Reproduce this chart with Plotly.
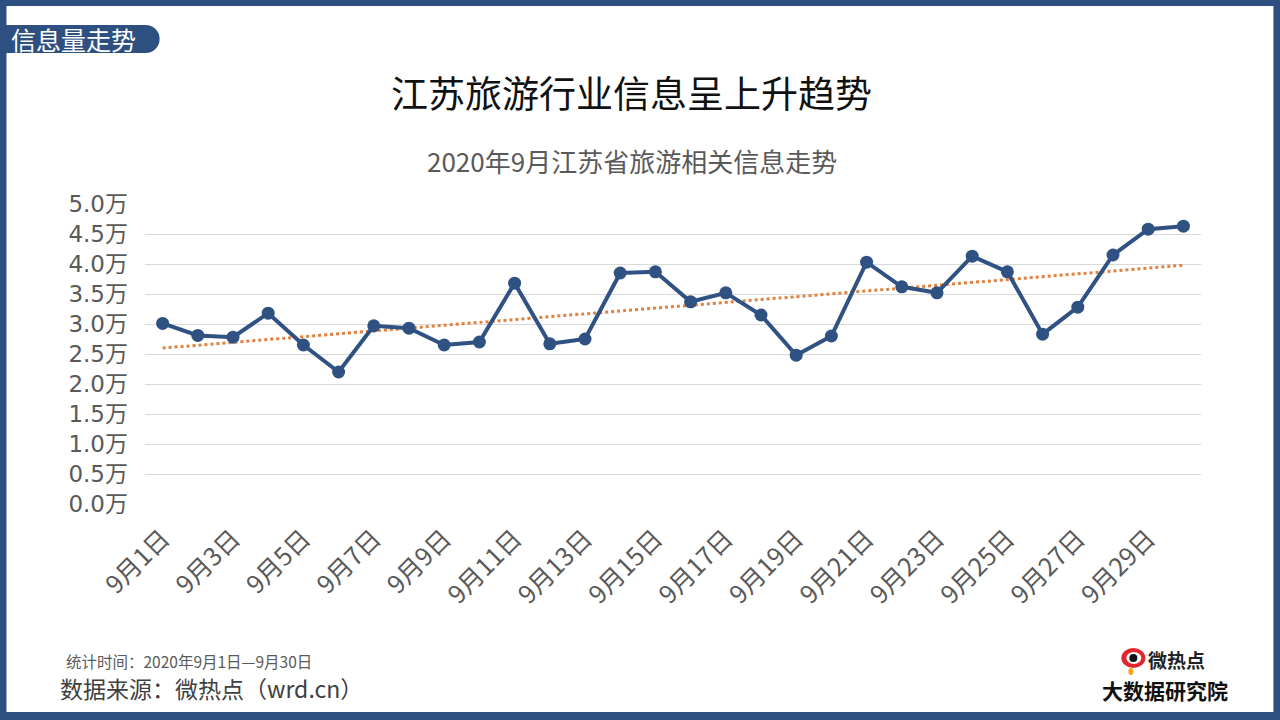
import numpy as np
import plotly.graph_objects as go

# ---- data ----
days = list(range(1, 31))
day_labels = [f"9月{d}日" for d in days]
values = [3.01, 2.81, 2.78, 3.18, 2.65, 2.20, 2.97, 2.93, 2.65, 2.70,
          3.68, 2.67, 2.75, 3.85, 3.87, 3.37, 3.52, 3.15, 2.48, 2.80,
          4.03, 3.62, 3.52, 4.13, 3.87, 2.83, 3.28, 4.15, 4.58, 4.63]
y_tickvals = [0, 0.5, 1.0, 1.5, 2.0, 2.5, 3.0, 3.5, 4.0, 4.5, 5.0]
y_ticktext = ["0.0万", "0.5万", "1.0万", "1.5万", "2.0万", "2.5万",
              "3.0万", "3.5万", "4.0万", "4.5万", "5.0万"]
x_tickvals = days[::2]
x_ticktext = day_labels[::2]

# linear trend line (as Excel trendline)
slope, intercept = np.polyfit(days, values, 1)
trend = [slope * d + intercept for d in days]

FONT = "Noto Sans CJK SC"
BLUE = "#2E5080"
LINE = "#2F5283"

# plot area in pixels
L, R, T, B = 145.4, 1200.6, 204, 504
W, H = R - L, B - T
def px(x):
    return (x - L) / W
def py(y):
    return (B - y) / H

fig = go.Figure()
fig.add_trace(go.Scatter(x=days, y=trend, mode="lines",
                         line=dict(color="#E0823F", width=3, dash="dot"),
                         hoverinfo="skip", showlegend=False))
fig.add_trace(go.Scatter(x=days, y=values, mode="lines+markers",
                         line=dict(color=LINE, width=4),
                         marker=dict(size=13, color=LINE),
                         showlegend=False))

shapes = []
# frame
for (x0, y0, x1, y1) in [(0, 0, 1280, 6), (0, 712, 1280, 720), (0, 0, 7, 720), (1273, 0, 1280, 720)]:
    shapes.append(dict(type="rect", xref="paper", yref="paper",
                       x0=px(x0), x1=px(x1), y0=py(y0), y1=py(y1),
                       fillcolor=BLUE, line=dict(width=0), layer="above"))
# pill label
shapes.append(dict(type="rect", xref="paper", yref="paper",
                   x0=px(0), x1=px(146), y0=py(25), y1=py(53),
                   fillcolor=BLUE, line=dict(width=0), layer="above"))
shapes.append(dict(type="circle", xref="paper", yref="paper",
                   x0=px(132), x1=px(160), y0=py(25), y1=py(53),
                   fillcolor=BLUE, line=dict(width=0), layer="above"))
# logo eye
shapes.append(dict(type="circle", xref="paper", yref="paper",
                   x0=px(1121), x1=px(1145), y0=py(648), y1=py(668),
                   fillcolor="#E3262E", line=dict(width=0), layer="above"))
shapes.append(dict(type="circle", xref="paper", yref="paper",
                   x0=px(1126), x1=px(1141), y0=py(652), y1=py(664),
                   fillcolor="white", line=dict(width=0), layer="above"))
shapes.append(dict(type="circle", xref="paper", yref="paper",
                   x0=px(1129), x1=px(1137), y0=py(654), y1=py(662),
                   fillcolor="#111111", line=dict(width=0), layer="above"))
shapes.append(dict(type="circle", xref="paper", yref="paper",
                   x0=px(1128), x1=px(1133), y0=py(668), y1=py(675),
                   fillcolor="#F5A623", line=dict(width=0), layer="above"))

def ann(text, x, y, size, color, xanchor="left"):
    return dict(text=text, xref="paper", yref="paper", x=px(x), y=py(y),
                xanchor=xanchor, yanchor="middle", showarrow=False,
                font=dict(size=size, color=color, family=FONT))

annotations = [
    ann("信息量走势", 10, 39, 25, "white"),
    ann("江苏旅游行业信息呈上升趋势", 632, 92, 37, "#111111", "center"),
    ann("2020年9月江苏省旅游相关信息走势", 632, 160, 26, "#595959", "center"),
    ann("统计时间：2020年9月1日—9月30日", 64, 661, 15.5, "#595959"),
    ann("数据来源：微热点（wrd.cn）", 58, 688, 23, "#404040"),
    ann("<b>微热点</b>", 1146, 659, 19, "#222222"),
    ann("<b>大数据研究院</b>", 1165, 690, 21, "#111111", "center"),
]

fig.update_layout(
    width=1280, height=720,
    margin=dict(l=L, r=1280 - R, t=T, b=720 - B, pad=0),
    paper_bgcolor="white", plot_bgcolor="white",
    font=dict(family=FONT, color="#595959"),
    shapes=shapes, annotations=annotations,
    showlegend=False,
)
fig.update_xaxes(range=[0.5, 30.5], tickmode="array", tickvals=x_tickvals, ticktext=x_ticktext,
                 tickangle=-45, tickfont=dict(size=25, color="#595959", family=FONT),
                 showgrid=False, zeroline=False, showline=False, ticks="",
                 ticklabelstandoff=14)
fig.update_yaxes(range=[0, 5], tickmode="array", tickvals=y_tickvals, ticktext=y_ticktext,
                 tickfont=dict(size=23, color="#595959", family="DejaVu Sans, " + FONT),
                 showgrid=True, gridcolor="#D9D9D9", gridwidth=1, zeroline=False,
                 showline=False, ticks="", ticklabelstandoff=16)

fig.write_html("out.html")
